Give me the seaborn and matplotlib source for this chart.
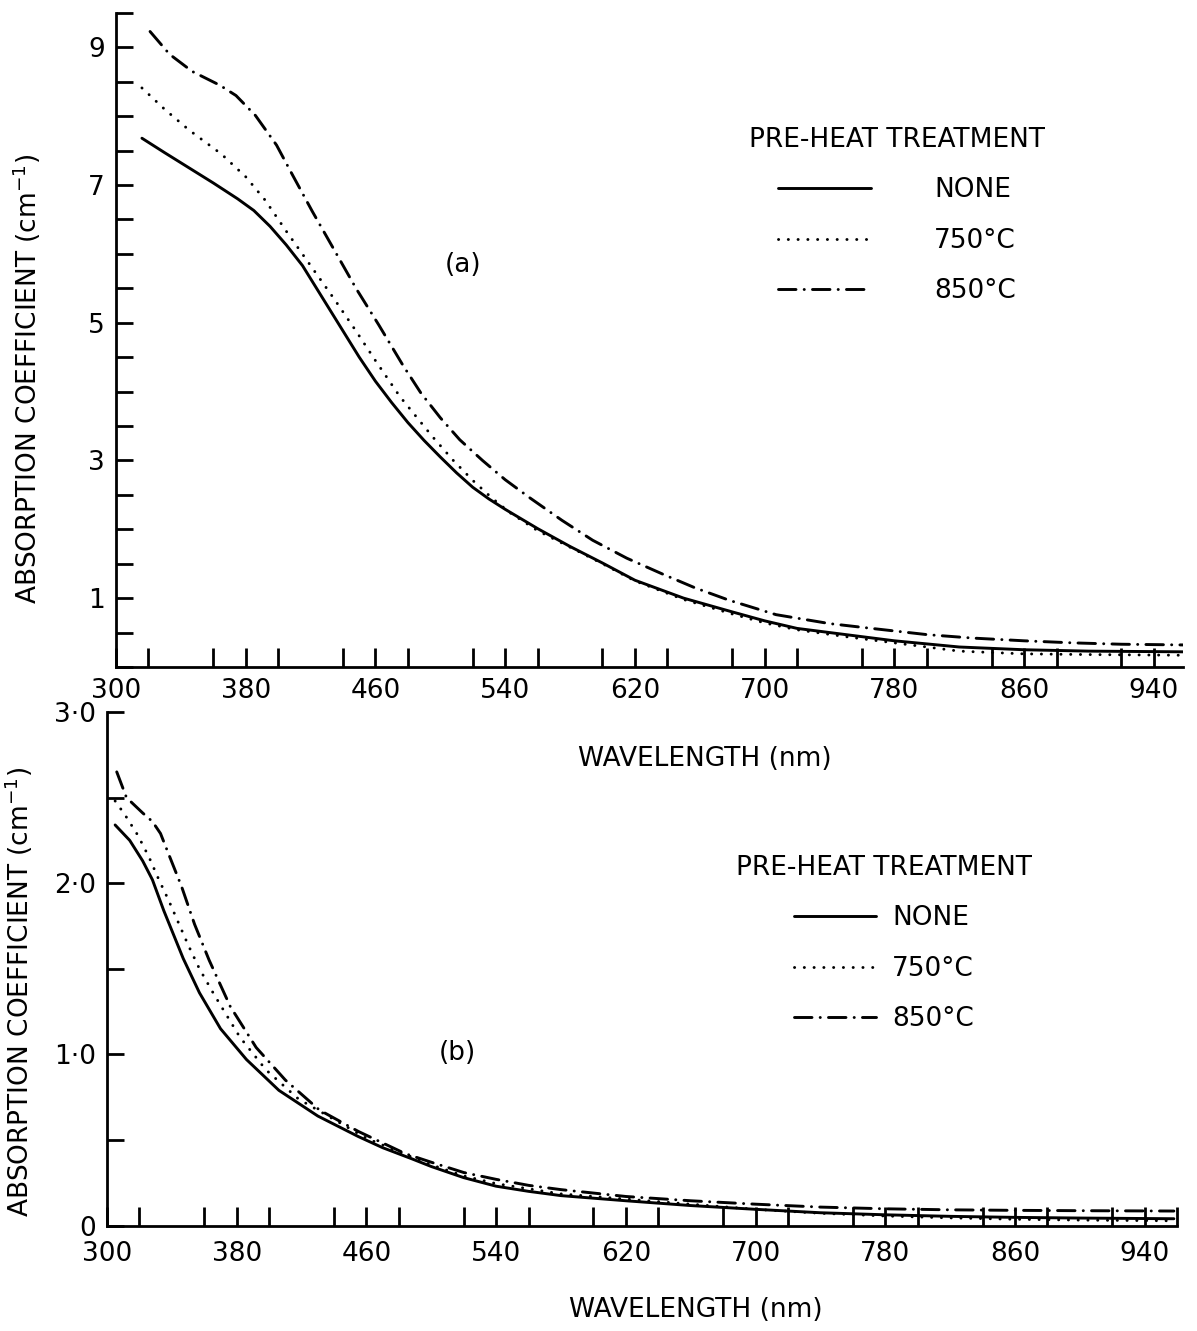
import matplotlib
matplotlib.use('Agg')
import numpy as np
import pandas as pd
import matplotlib.pyplot as plt
import seaborn as sns
from matplotlib.ticker import FixedLocator, FixedFormatter, MultipleLocator

# Treatments (legend order)
treatments = ['NONE', '750°C', '850°C']

# Panel (a)
wl_a_none = [316, 330, 345, 360, 375, 385, 395, 405, 415, 425, 440, 450, 460, 470, 480, 490, 500, 510, 520,
             530, 540, 560, 580, 600, 620, 650, 680, 700, 720, 750, 780, 820, 860, 900, 958]
abs_a_none = [7.68, 7.47, 7.25, 7.03, 6.80, 6.63, 6.40, 6.13, 5.83, 5.45, 4.88, 4.50, 4.15, 3.84, 3.55, 3.29,
              3.05, 2.82, 2.61, 2.44, 2.29, 2.01, 1.75, 1.51, 1.26, 1.00, 0.80, 0.67, 0.56, 0.47, 0.38,
              0.29, 0.25, 0.23, 0.22]

wl_a_750 = [316, 330, 345, 365, 380, 392, 405, 420, 435, 448, 460, 475, 495, 508, 520, 532, 543, 560,
            580, 600, 620, 650, 680, 700, 720, 750, 780, 820, 860, 900, 958]
abs_a_750 = [8.41, 8.10, 7.80, 7.45, 7.12, 6.78, 6.33, 5.83, 5.33, 4.88, 4.45, 3.93, 3.35, 3.00, 2.71, 2.45,
             2.24, 1.98, 1.74, 1.50, 1.25, 0.98, 0.77, 0.64, 0.54, 0.44, 0.35, 0.23, 0.19, 0.18, 0.17]

wl_a_850 = [321, 333, 347, 364, 374, 386, 399, 409, 421, 435, 448, 462, 477, 488, 500, 512, 526, 540, 555,
            575, 594, 615, 637, 657, 678, 707, 740, 766, 800, 828, 860, 890, 920, 958]
abs_a_850 = [9.23, 8.90, 8.65, 8.45, 8.30, 8.01, 7.58, 7.14, 6.62, 6.04, 5.50, 4.97, 4.38, 3.98, 3.62, 3.30,
             3.00, 2.72, 2.46, 2.13, 1.84, 1.58, 1.35, 1.15, 0.97, 0.76, 0.63, 0.56, 0.47, 0.42, 0.38, 0.35,
             0.33, 0.32]

# Panel (b)
wl_b_none = [305, 314, 322, 328, 335, 341, 347, 357, 370, 386, 406, 430, 455, 470, 488, 500, 520,
             540, 560, 580, 620, 660, 700, 740, 780, 820, 860, 900, 958]
abs_b_none = [2.34, 2.25, 2.13, 2.02, 1.84, 1.70, 1.56, 1.36, 1.15, 0.97, 0.79, 0.64, 0.52, 0.455, 0.39,
              0.345, 0.28, 0.23, 0.20, 0.175, 0.145, 0.117, 0.095, 0.075, 0.063, 0.054, 0.048, 0.044, 0.040]

wl_b_750 = [305, 311, 319, 326, 332, 338, 344, 350, 357, 366, 382, 398, 418, 440, 460, 488,
            500, 520, 540, 580, 620, 660, 700, 740, 780, 820, 860, 900, 958]
abs_b_750 = [2.48, 2.40, 2.28, 2.15, 2.02, 1.90, 1.77, 1.64, 1.50, 1.35, 1.10, 0.91, 0.74, 0.62, 0.51, 0.40,
             0.355, 0.29, 0.245, 0.185, 0.155, 0.125, 0.095, 0.072, 0.056, 0.045, 0.037, 0.032, 0.028]

wl_b_850 = [306, 312, 322, 328, 333, 338, 346, 354, 363, 376, 392, 410, 431, 455, 484, 500,
            520, 540, 560, 580, 620, 660, 700, 740, 780, 820, 860, 900, 958]
abs_b_850 = [2.65, 2.50, 2.41, 2.36, 2.29, 2.17, 1.98, 1.76, 1.55, 1.28, 1.04, 0.85, 0.675, 0.55, 0.42, 0.37,
             0.31, 0.27, 0.235, 0.21, 0.17, 0.145, 0.125, 0.108, 0.098, 0.092, 0.089, 0.087, 0.085]

# Tick labels
x_tick_vals = [300, 380, 460, 540, 620, 700, 780, 860, 940]
x_tick_labels = ['300', '380', '460', '540', '620', '700', '780', '860', '940']
ya_tick_vals = [1, 3, 5, 7, 9]
ya_tick_labels = ['1', '3', '5', '7', '9']
yb_tick_vals = [0, 1, 2, 3]
yb_tick_labels = ['0', '1·0', '2·0', '3·0']

legend_title = 'PRE-HEAT TREATMENT'
xlabel = 'WAVELENGTH (nm)'
ylabel = r'ABSORPTION COEFFICIENT (cm$^{-1}$)'

sns.set_style('ticks')
plt.rcParams['font.family'] = ['DejaVu Sans']
plt.rcParams['mathtext.fontset'] = 'dejavusans'
plt.rcParams['lines.dash_capstyle'] = 'round'
plt.rcParams['lines.solid_capstyle'] = 'round'
for key in ['text.color', 'axes.labelcolor', 'xtick.color', 'ytick.color', 'axes.edgecolor']:
    plt.rcParams[key] = 'black'

FS = 19
dash_styles = {'NONE': '', '750°C': (0.05, 3.3), '850°C': (6.0, 2.8, 0.05, 2.8)}


def make_frame(wls, vals):
    parts = []
    for w, v, t in zip(wls, vals, treatments):
        parts.append(pd.DataFrame({'wavelength': w, 'absorption': v, 'treatment': t}))
    return pd.concat(parts, ignore_index=True)


df_a = make_frame([wl_a_none, wl_a_750, wl_a_850], [abs_a_none, abs_a_750, abs_a_850])
df_b = make_frame([wl_b_none, wl_b_750, wl_b_850], [abs_b_none, abs_b_750, abs_b_850])

fig = plt.figure(figsize=(11.97, 13.31), dpi=100)
ax_a = fig.add_axes([0.0969, 0.4989, 0.8914, 0.4914])
ax_b = fig.add_axes([0.0894, 0.0792, 0.8940, 0.3859])
ax_b.set_facecolor('none')


def draw_panel(ax, df, xlim, ylim, yticks, yticklabels, xpad):
    sns.lineplot(data=df, x='wavelength', y='absorption', style='treatment',
                 style_order=treatments, dashes=dash_styles, color='black',
                 linewidth=2.1, estimator=None, sort=False, legend=False, ax=ax)
    ax.set_xlim(*xlim)
    ax.set_ylim(*ylim)
    ax.xaxis.set_major_locator(FixedLocator(x_tick_vals))
    ax.xaxis.set_major_formatter(FixedFormatter(x_tick_labels))
    ax.xaxis.set_minor_locator(MultipleLocator(40))
    ax.yaxis.set_major_locator(FixedLocator(yticks))
    ax.yaxis.set_major_formatter(FixedFormatter(yticklabels))
    ax.yaxis.set_minor_locator(MultipleLocator(0.5))
    ax.tick_params(axis='x', which='both', direction='in', length=14, width=2,
                   labelsize=FS, pad=xpad)
    ax.tick_params(axis='y', which='both', direction='in', length=12, width=2,
                   labelsize=FS, pad=8)
    for s in ['top', 'right']:
        ax.spines[s].set_visible(False)
    for s in ['left', 'bottom']:
        ax.spines[s].set_linewidth(2)
    ax.set_xlabel(xlabel, fontsize=FS)
    ax.set_ylabel(ylabel, fontsize=FS)


draw_panel(ax_a, df_a, (300, 958), (0, 9.5), ya_tick_vals, ya_tick_labels, 8)
draw_panel(ax_b, df_b, (300, 960), (0, 3.0), yb_tick_vals, yb_tick_labels, 11)

ax_a.xaxis.set_label_coords(0.552, -0.121)
ax_a.yaxis.set_label_coords(-0.068, 0.44)
ax_b.xaxis.set_label_coords(0.55, -0.139)
ax_b.yaxis.set_label_coords(-0.067, 0.455)

ax_a.text(0.325, 0.615, '(a)', transform=ax_a.transAxes, ha='center', va='center', fontsize=FS)
ax_b.text(0.327, 0.336, '(b)', transform=ax_b.transAxes, ha='center', va='center', fontsize=FS)

# legends
ax_a.legend(handles=ax_a.get_lines()[:3], labels=treatments, title=legend_title,
            loc='upper center', bbox_to_anchor=(897 / 1197, 1 - 114 / 1331),
            bbox_transform=fig.transFigure, frameon=False, fontsize=FS,
            title_fontsize=FS, handlelength=3.5, handletextpad=2.4,
            labelspacing=0.92, borderpad=0)
ax_b.legend(handles=ax_b.get_lines()[:3], labels=treatments, title=legend_title,
            loc='upper center', bbox_to_anchor=(884 / 1197, 1 - 842 / 1331),
            bbox_transform=fig.transFigure, frameon=False, fontsize=FS,
            title_fontsize=FS, handlelength=3.1, handletextpad=0.6,
            labelspacing=0.92, borderpad=0)

fig.savefig('out.png', dpi=100)
